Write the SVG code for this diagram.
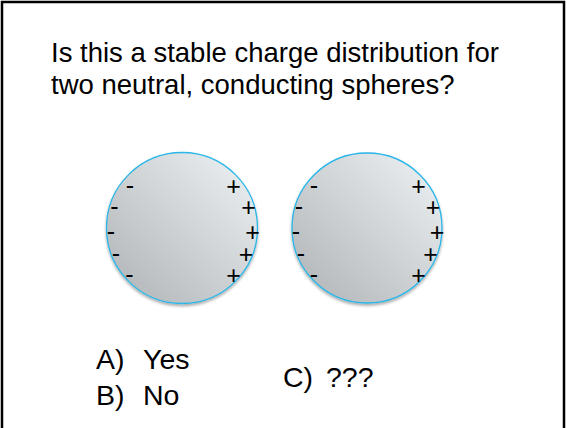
<svg xmlns="http://www.w3.org/2000/svg" width="567" height="428" viewBox="0 0 567 428">
<defs>
<linearGradient id="sph" x1="1" y1="0" x2="0" y2="1">
<stop offset="0" stop-color="#eef3f5"/>
<stop offset="1" stop-color="#afb2b4"/>
</linearGradient>
<filter id="sh" x="-10%" y="-10%" width="120%" height="125%">
<feGaussianBlur in="SourceAlpha" stdDeviation="1.5"/>
<feOffset dx="0" dy="2"/>
<feComponentTransfer><feFuncA type="linear" slope="0.35"/></feComponentTransfer>
<feMerge><feMergeNode/><feMergeNode in="SourceGraphic"/></feMerge>
</filter>
</defs>
<style>
.t{font-family:"Liberation Sans",Arial,sans-serif;fill:#000}
.q{font-size:27.5px}
.a{font-size:28.5px}
.s{font-size:25px;text-anchor:middle}
.ball{fill:url(#sph);stroke:#29b6e8;stroke-width:1.3;filter:url(#sh)}
</style>
<rect x="2" y="2" width="562" height="440" fill="#fff" stroke="#000" stroke-width="2.5"/>
<g id="question">
<text class="t q" x="51" y="62">Is this a stable charge distribution for</text>
<text class="t q" x="51" y="94">two neutral, conducting spheres?</text>
</g>
<g id="sphere1">
<circle class="ball" cx="182" cy="228" r="75.5"/>
<text class="t s" x="130" y="194">-</text>
<text class="t s" x="114.5" y="215">-</text>
<text class="t s" x="111" y="240">-</text>
<text class="t s" x="116" y="262">-</text>
<text class="t s" x="129.5" y="283">-</text>
<text class="t s" x="233.5" y="195">+</text>
<text class="t s" x="248.5" y="216">+</text>
<text class="t s" x="252.5" y="241">+</text>
<text class="t s" x="246" y="263">+</text>
<text class="t s" x="233.5" y="284">+</text>
</g>
<g id="sphere2">
<circle class="ball" cx="367" cy="228" r="75"/>
<text class="t s" x="314" y="194">-</text>
<text class="t s" x="299" y="215">-</text>
<text class="t s" x="296" y="240">-</text>
<text class="t s" x="301" y="262">-</text>
<text class="t s" x="314" y="283">-</text>
<text class="t s" x="418.5" y="195">+</text>
<text class="t s" x="433" y="216">+</text>
<text class="t s" x="437" y="241">+</text>
<text class="t s" x="430.5" y="263">+</text>
<text class="t s" x="418.5" y="284">+</text>
</g>
<g id="answers">
<text class="t a" x="96" y="369">A)</text>
<text class="t a" x="143" y="369">Yes</text>
<text class="t a" x="96" y="405">B)</text>
<text class="t a" x="143" y="405">No</text>
<text class="t a" x="283" y="387">C)</text>
<text class="t a" x="326" y="387">???</text>
</g>
</svg>
